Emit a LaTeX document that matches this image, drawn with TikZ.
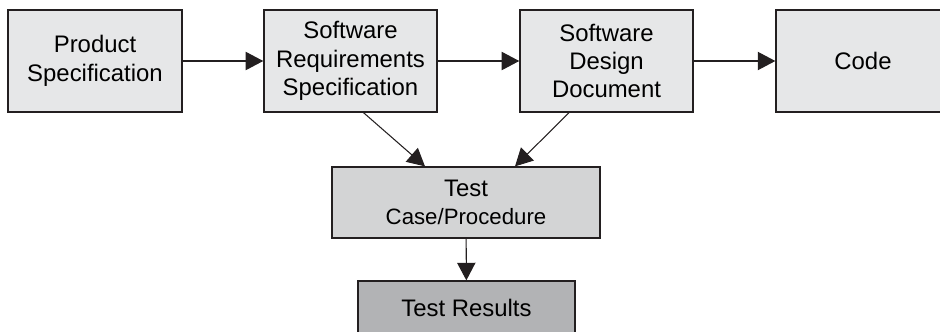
\documentclass[tikz,border=0pt]{standalone}
\usepackage{fontspec}
\setmainfont{Liberation Sans}
\usepackage{tikz}
\usetikzlibrary{calc,arrows.meta}

\definecolor{boxline}{HTML}{231F20}
\definecolor{docfill}{HTML}{E6E7E8}
\definecolor{casefill}{HTML}{D3D4D5}
\definecolor{resultfill}{HTML}{B2B3B5}

\begin{document}
\begin{tikzpicture}[x=0.025cm,y=-0.025cm,
    docbox/.style={draw=boxline,line width=0.9pt,fill=docfill,inner sep=0pt,
      align=center,font=\fontsize{17}{20.2}\selectfont},
    flow/.style={draw=boxline,line width=0.75pt,-{Triangle[length=12.5pt,width=13pt]}}]
          \useasboundingbox (0,0) rectangle (940,331);
          \clip (0,0) rectangle (940,331);
          \node[docbox,minimum width=4.35cm,minimum height=2.55cm] (prod) at (95,61)
            {Product\\Specification};
          \node[docbox,minimum width=4.33cm,minimum height=2.55cm] (srs) at (350.5,61)
            {Software\\Requirements\\Specification};
          \node[docbox,minimum width=4.33cm,minimum height=2.55cm] (sdd) at (606.5,61)
            {Software\\Design\\Document};
          \node[docbox,minimum width=4.35cm,minimum height=2.55cm] (code) at (863,61)
            {Code};
          \node[docbox,fill=casefill,minimum width=6.7cm,minimum height=1.775cm] (test) at (466,202.5)
            {Test\\{\fontsize{15.8}{20.2}\selectfont Case/Procedure}};
          \node[docbox,fill=resultfill,minimum width=5.425cm,minimum height=1.35cm] (result) at (466.5,308)
            {Test Results};
          \draw[flow] (prod) -- (srs);
          \draw[flow] (srs) -- (sdd);
          \draw[flow] (sdd) -- (code);
          \draw[flow] ($(srs.south)+(13,0)$) -- ($(test.north)+(-41,0)$);
          \draw[flow] ($(sdd.south)+(-37.5,0)$) -- ($(test.north)+(49,0)$);
          \draw[flow] (test) -- (result);
        \end{tikzpicture}
\end{document}
